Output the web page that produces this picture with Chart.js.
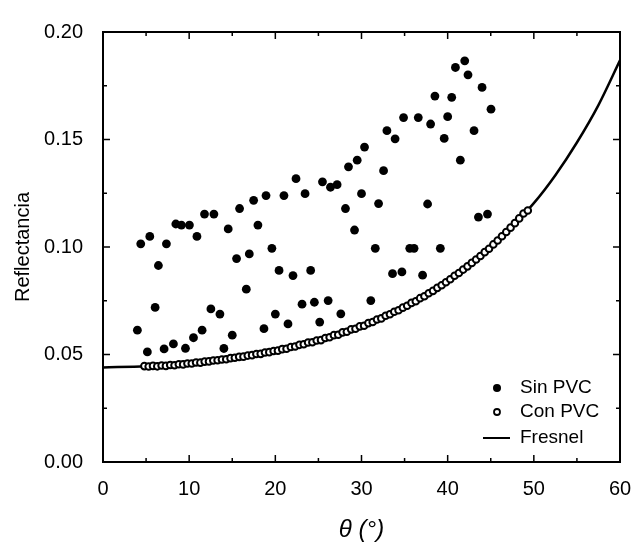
<!DOCTYPE html>
<html>
<head>
<meta charset="utf-8">
<script src="https://cdn.jsdelivr.net/npm/chart.js@4.4.0/dist/chart.umd.min.js"></script>
<style>
  html, body { margin: 0; padding: 0; background: #fff; }
  #caja { width: 637px; height: 549px; }
</style>
</head>
<body>
<div id="caja"><canvas id="grafica" width="637" height="549"></canvas></div>
<script>
// Sin PVC (puntos llenos)
const sinX = [3.99, 4.38, 5.15, 5.43, 6.05, 6.43, 7.09, 7.36, 8.17, 8.45, 9.1, 9.57, 10.03, 10.5, 10.9,
  11.5, 11.78, 12.52, 12.87, 13.57, 14.03, 14.53, 15.0, 15.5, 15.85, 16.63, 16.98, 17.48, 17.98, 18.68,
  18.92, 19.6, 20.0, 20.43, 21.0, 21.47, 22.05, 22.4, 23.1, 23.45, 24.1, 24.53, 25.15, 25.47, 26.13,
  26.4, 27.17, 27.6, 28.14, 28.49, 29.19, 29.5, 30.0, 30.35, 31.08, 31.6, 31.98, 32.56, 32.95, 33.6,
  33.9, 34.69, 34.88, 35.6, 36.1, 36.59, 37.09, 37.67, 38.02, 38.52, 39.15, 39.6, 40.0, 40.47, 40.9,
  41.47, 41.98, 42.36, 43.06, 43.57, 43.99, 44.62, 45.03];
const sinY = [0.0613, 0.1015, 0.0512, 0.1049, 0.0719, 0.0914, 0.0526, 0.1015, 0.0549, 0.1107, 0.1102, 0.0529, 0.1102, 0.0578, 0.1049,
  0.0613, 0.1153, 0.0712, 0.1153, 0.0688, 0.0528, 0.1084, 0.059, 0.0946, 0.1179, 0.0804, 0.0968, 0.1217, 0.1102, 0.062,
  0.1239, 0.0994, 0.0688, 0.0891, 0.1239, 0.0642, 0.0867, 0.1318, 0.0734, 0.1248, 0.0891, 0.0743, 0.0651, 0.1303, 0.0751,
  0.1278, 0.129, 0.0689, 0.1179, 0.1373, 0.1079, 0.1404, 0.1248, 0.1465, 0.0751, 0.0994, 0.1202, 0.1355, 0.1541, 0.0876,
  0.1503, 0.0884, 0.1602, 0.0994, 0.0994, 0.1602, 0.0869, 0.12, 0.1572, 0.1702, 0.0994, 0.1505, 0.1606, 0.1696, 0.1835,
  0.1404, 0.1866, 0.1801, 0.1541, 0.1139, 0.1742, 0.1153, 0.1641];

// Con PVC (puntos abiertos)
const conX = [4.8, 5.3, 5.8, 6.3, 6.8, 7.3, 7.8, 8.3, 8.8, 9.3, 9.8, 10.3, 10.8, 11.3, 11.8, 12.3, 12.8, 13.3,
  13.8, 14.3, 14.8, 15.3, 15.8, 16.3, 16.8, 17.3, 17.8, 18.3, 18.8, 19.3, 19.8, 20.3, 20.8, 21.3, 21.8, 22.3,
  22.8, 23.3, 23.8, 24.3, 24.8, 25.3, 25.8, 26.3, 26.8, 27.3, 27.8, 28.3, 28.8, 29.3, 29.8, 30.3, 30.8, 31.3,
  31.8, 32.3, 32.8, 33.3, 33.8, 34.3, 34.8, 35.3, 35.8, 36.3, 36.8, 37.3, 37.8, 38.3, 38.8, 39.3, 39.8, 40.3,
  40.8, 41.3, 41.8, 42.3, 42.8, 43.3, 43.8, 44.3, 44.8, 45.3, 45.8, 46.3, 46.8, 47.3, 47.8, 48.3, 48.8, 49.3];
const conY = [0.0446, 0.0444, 0.0447, 0.0445, 0.0449, 0.0447, 0.0451, 0.0450, 0.0455, 0.0454, 0.0458, 0.0458, 0.0463, 0.0462, 0.0467, 0.0468, 0.0472, 0.0473,
  0.0477, 0.0478, 0.0483, 0.0485, 0.0489, 0.0490, 0.0495, 0.0497, 0.0502, 0.0503, 0.0509, 0.0511, 0.0516, 0.0518, 0.0525, 0.0527, 0.0535, 0.0537,
  0.0545, 0.0548, 0.0556, 0.0557, 0.0565, 0.0567, 0.0577, 0.0580, 0.0590, 0.0592, 0.0603, 0.0606, 0.0617, 0.0620, 0.0631, 0.0634, 0.0646, 0.0651,
  0.0663, 0.0668, 0.0680, 0.0687, 0.0699, 0.0706, 0.0718, 0.0727, 0.0740, 0.0748, 0.0762, 0.0771, 0.0785, 0.0796, 0.0810, 0.0822, 0.0836, 0.0850,
  0.0866, 0.0879, 0.0895, 0.0910, 0.0926, 0.0942, 0.0958, 0.0976, 0.0992, 0.1012, 0.1030, 0.1050, 0.1070, 0.1090, 0.1111, 0.1133, 0.1156, 0.1170];

// Fresnel (curva)
const fresnelX = [0, 5, 10, 15, 20, 25, 30, 35, 40, 45, 50, 52.5, 55, 57.5, 60];
const fresnelY = [0.0440, 0.0445, 0.0458, 0.0481, 0.0516, 0.0565, 0.0631, 0.0719, 0.0837, 0.0993, 0.1204, 0.1334, 0.1486, 0.1660, 0.1868];

const xTicks = [0, 10, 20, 30, 40, 50, 60];
const yTicks = [0, 0.05, 0.10, 0.15, 0.20];

function pares(xs, ys) {
  return xs.map((x, i) => ({ x: x, y: ys[i] }));
}

Chart.defaults.font.family = '"Liberation Sans", Arial, sans-serif';
Chart.defaults.color = '#000';

// marco con marcas hacia dentro y leyenda dentro del area
const marco = {
  id: 'marco',
  afterDraw(chart) {
    const ctx = chart.ctx;
    const a = chart.chartArea;
    const sx = chart.scales.x, sy = chart.scales.y;
    ctx.save();
    ctx.strokeStyle = '#000';
    ctx.lineWidth = 2;
    ctx.strokeRect(a.left, a.top, a.right - a.left, a.bottom - a.top);
    ctx.lineWidth = 1.5;
    ctx.beginPath();
    for (let v = 0; v <= 60; v += 5) {
      const px = sx.getPixelForValue(v);
      const len = v % 10 === 0 ? 7 : 4;
      ctx.moveTo(px, a.bottom); ctx.lineTo(px, a.bottom - len);
      ctx.moveTo(px, a.top); ctx.lineTo(px, a.top + len);
    }
    for (let k = 0; k <= 8; k++) {
      const py = sy.getPixelForValue(k * 0.025);
      const len = k % 2 === 0 ? 7 : 4;
      ctx.moveTo(a.left, py); ctx.lineTo(a.left + len, py);
      ctx.moveTo(a.right, py); ctx.lineTo(a.right - len, py);
    }
    ctx.stroke();

    // leyenda
    const ds = chart.data.datasets;
    const lx = a.right - 123, tx = a.right - 100;
    const filas = [a.bottom - 74, a.bottom - 50, a.bottom - 24];
    ctx.font = '19px "Liberation Sans", Arial, sans-serif';
    ctx.fillStyle = '#000';
    ctx.textBaseline = 'middle';
    ctx.beginPath(); ctx.arc(lx, filas[0], 4, 0, Math.PI * 2); ctx.fill();
    ctx.beginPath(); ctx.arc(lx, filas[1], 3, 0, Math.PI * 2); ctx.lineWidth = 1.8; ctx.stroke();
    ctx.beginPath(); ctx.moveTo(lx - 14, filas[2]); ctx.lineTo(lx + 13, filas[2]); ctx.lineWidth = 2; ctx.stroke();
    ctx.fillText(ds[0].label, tx, filas[0]);
    ctx.fillText(ds[1].label, tx, filas[1]);
    ctx.fillText(ds[2].label, tx, filas[2]);
    ctx.restore();
  }
};

const grafica = new Chart(document.getElementById('grafica').getContext('2d'), {
  type: 'scatter',
  data: {
    datasets: [{
      label: 'Sin PVC',
      data: pares(sinX, sinY),
      pointRadius: 4.4,
      backgroundColor: '#000',
      borderColor: '#000',
      borderWidth: 0,
      order: 1
    }, {
      label: 'Con PVC',
      data: pares(conX, conY),
      pointRadius: 3.3,
      backgroundColor: '#fff',
      borderColor: '#000',
      borderWidth: 2,
      order: 2
    }, {
      label: 'Fresnel',
      data: pares(fresnelX, fresnelY),
      showLine: true,
      pointRadius: 0,
      borderColor: '#000',
      borderWidth: 2.5,
      cubicInterpolationMode: 'monotone',
      order: 3
    }]
  },
  options: {
    responsive: false,
    animation: false,
    layout: { padding: { left: 6, right: 17, top: 26, bottom: 0 } },
    plugins: {
      legend: { display: false },
      tooltip: { enabled: false }
    },
    scales: {
      x: {
        type: 'linear',
        min: 0,
        max: 60,
        afterBuildTicks: s => { s.ticks = xTicks.map(v => ({ value: v })); },
        afterFit: s => { s.height = 87; s.paddingLeft = 0; s.paddingRight = 0; },
        grid: { display: false, drawTicks: false },
        border: { display: false },
        ticks: { padding: 15, font: { size: 20 } },
        title: {
          display: true,
          text: 'θ (°)',
          font: { size: 24, style: 'italic' },
          padding: { top: 0, bottom: 4 }
        }
      },
      y: {
        type: 'linear',
        min: 0,
        max: 0.20,
        afterBuildTicks: s => { s.ticks = yTicks.map(v => ({ value: v })); },
        afterFit: s => { s.width = 97; },
        grid: { display: false, drawTicks: false },
        border: { display: false },
        ticks: { padding: 20, font: { size: 20 }, callback: v => v.toFixed(2) },
        title: {
          display: true,
          text: 'Reflectancia',
          font: { size: 20 },
          padding: { top: 5, bottom: 0 }
        }
      }
    }
  },
  plugins: [marco]
});
</script>
</body>
</html>
